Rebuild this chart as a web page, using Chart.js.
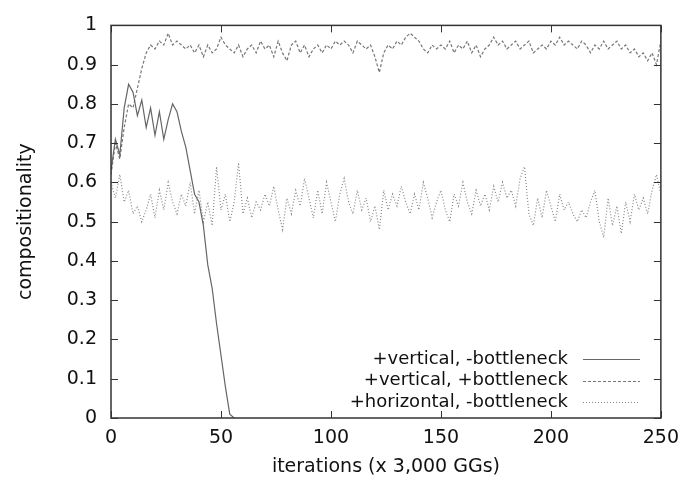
<!DOCTYPE html>
<html>
<head>
<meta charset="utf-8">
<script src="https://cdn.jsdelivr.net/npm/chart.js@4"></script>
<style>
  html, body { margin: 0; padding: 0; background: #fff; }
  #wrap { width: 688px; height: 483px; }
</style>
</head>
<body>
<div id="wrap"><canvas id="c"></canvas></div>
<script>
'use strict';

// iterations (x 3,000 GGs), sampled every 2
const iters = [
  0, 2, 4, 6, 8, 10, 12, 14, 16, 18, 20, 22, 24, 26, 28, 30, 32, 34, 36, 38,
  40, 42, 44, 46, 48, 50, 52, 54, 56, 58, 60, 62, 64, 66, 68, 70, 72, 74, 76, 78,
  80, 82, 84, 86, 88, 90, 92, 94, 96, 98, 100, 102, 104, 106, 108, 110, 112, 114, 116, 118,
  120, 122, 124, 126, 128, 130, 132, 134, 136, 138, 140, 142, 144, 146, 148, 150, 152, 154, 156, 158,
  160, 162, 164, 166, 168, 170, 172, 174, 176, 178, 180, 182, 184, 186, 188, 190, 192, 194, 196, 198,
  200, 202, 204, 206, 208, 210, 212, 214, 216, 218, 220, 222, 224, 226, 228, 230, 232, 234, 236, 238,
  240, 242, 244, 246, 248, 250
];

// +vertical, -bottleneck (collapses to 0 after ~55)
const vertNoBottleneck = [
  0.63, 0.71, 0.67, 0.79, 0.85, 0.83, 0.77, 0.81, 0.74, 0.79,
  0.72, 0.78, 0.71, 0.76, 0.80, 0.78, 0.73, 0.69, 0.63, 0.57,
  0.55, 0.49, 0.39, 0.33, 0.24, 0.16, 0.08, 0.01, 0.00
];

// +vertical, +bottleneck
const vertBottleneck = [
  0.62, 0.70, 0.66, 0.74, 0.80, 0.79, 0.84, 0.89, 0.93, 0.95,
  0.94, 0.96, 0.95, 0.98, 0.95, 0.96, 0.95, 0.94, 0.95, 0.93,
  0.95, 0.92, 0.95, 0.93, 0.94, 0.97, 0.95, 0.94, 0.93, 0.95,
  0.92, 0.94, 0.95, 0.93, 0.96, 0.94, 0.95, 0.92, 0.96, 0.93,
  0.91, 0.95, 0.96, 0.93, 0.95, 0.92, 0.94, 0.95, 0.93, 0.95,
  0.94, 0.96, 0.95, 0.96, 0.95, 0.93, 0.96, 0.95, 0.94, 0.95,
  0.92, 0.88, 0.93, 0.95, 0.94, 0.96, 0.95, 0.97, 0.98, 0.97,
  0.96, 0.94, 0.93, 0.95, 0.94, 0.95, 0.94, 0.96, 0.93, 0.95,
  0.94, 0.96, 0.93, 0.95, 0.92, 0.94, 0.95, 0.97, 0.95, 0.96,
  0.94, 0.95, 0.96, 0.94, 0.95, 0.96, 0.93, 0.94, 0.95, 0.94,
  0.96, 0.95, 0.97, 0.95, 0.96, 0.95, 0.94, 0.96, 0.95, 0.93,
  0.95, 0.94, 0.96, 0.94, 0.95, 0.96, 0.94, 0.95, 0.93, 0.94,
  0.92, 0.93, 0.91, 0.93, 0.90, 0.96
];

// +horizontal, -bottleneck
const horizNoBottleneck = [
  0.60, 0.56, 0.62, 0.55, 0.58, 0.52, 0.54, 0.50, 0.53, 0.57,
  0.51, 0.58, 0.53, 0.60, 0.55, 0.52, 0.57, 0.54, 0.60, 0.52,
  0.58, 0.50, 0.55, 0.49, 0.64, 0.53, 0.57, 0.50, 0.55, 0.65,
  0.52, 0.56, 0.51, 0.55, 0.53, 0.57, 0.54, 0.59, 0.53, 0.48,
  0.56, 0.52, 0.58, 0.54, 0.61, 0.56, 0.51, 0.58, 0.52, 0.60,
  0.55, 0.50, 0.57, 0.61, 0.55, 0.52, 0.58, 0.53, 0.56, 0.50,
  0.54, 0.48, 0.58, 0.53, 0.57, 0.54, 0.59, 0.55, 0.52, 0.57,
  0.53, 0.60, 0.56, 0.51, 0.55, 0.58, 0.53, 0.50, 0.57, 0.54,
  0.60, 0.55, 0.52, 0.58, 0.54, 0.57, 0.53, 0.59, 0.55, 0.60,
  0.56, 0.58, 0.54, 0.61, 0.64, 0.52, 0.49, 0.56, 0.51, 0.58,
  0.54, 0.50, 0.57, 0.53, 0.55, 0.52, 0.50, 0.53, 0.51, 0.55,
  0.58, 0.50, 0.46, 0.56, 0.49, 0.54, 0.47, 0.55, 0.50, 0.57,
  0.53, 0.56, 0.52, 0.58, 0.62, 0.57
];

const xTicks = [0, 50, 100, 150, 200, 250];
const yTicks = [0, 0.1, 0.2, 0.3, 0.4, 0.5, 0.6, 0.7, 0.8, 0.9, 1];

const toPoints = vals => vals.map((v, i) => ({ x: iters[i], y: v }));

Chart.defaults.font.family = 'DejaVu Sans';
Chart.defaults.font.size = 19;
Chart.defaults.color = '#111';

// gnuplot style frame with inward ticks on all four sides
const framePlugin = {
  id: 'frame',
  afterDatasetsDraw(chart) {
    const { ctx, chartArea: a, scales } = chart;
    ctx.save();
    ctx.strokeStyle = '#333';
    ctx.lineWidth = 1.5;
    ctx.strokeRect(a.left, a.top, a.right - a.left, a.bottom - a.top);
    ctx.lineWidth = 1;
    ctx.beginPath();
    xTicks.forEach(t => {
      const px = Math.round(scales.x.getPixelForValue(t)) + 0.5;
      ctx.moveTo(px, a.bottom); ctx.lineTo(px, a.bottom - 7);
      ctx.moveTo(px, a.top); ctx.lineTo(px, a.top + 7);
    });
    yTicks.forEach(t => {
      const py = Math.round(scales.y.getPixelForValue(t)) + 0.5;
      ctx.moveTo(a.left, py); ctx.lineTo(a.left + 7, py);
      ctx.moveTo(a.right, py); ctx.lineTo(a.right - 7, py);
    });
    ctx.stroke();
    ctx.restore();
  }
};

// legend in the lower right: label right-aligned, then line sample
const keyPlugin = {
  id: 'key',
  afterDraw(chart) {
    const { ctx } = chart;
    ctx.save();
    ctx.font = '18px "DejaVu Sans"';
    ctx.fillStyle = '#111';
    ctx.textAlign = 'right';
    ctx.textBaseline = 'middle';
    chart.data.datasets.forEach((ds, i) => {
      const y = 359 + i * 21.5;
      ctx.fillText(ds.label, 568, y);
      ctx.strokeStyle = ds.borderColor;
      ctx.lineWidth = ds.borderWidth;
      ctx.setLineDash(ds.borderDash || []);
      ctx.beginPath();
      ctx.moveTo(583, Math.round(y) + 0.5);
      ctx.lineTo(640, Math.round(y) + 0.5);
      ctx.stroke();
    });
    ctx.restore();
  }
};

new Chart(document.getElementById('c'), {
  type: 'line',
  data: {
    datasets: [
      {
        label: '+vertical, -bottleneck',
        data: toPoints(vertNoBottleneck),
        borderColor: '#666', borderWidth: 1.2,
        pointRadius: 0, tension: 0, fill: false
      },
      {
        label: '+vertical, +bottleneck',
        data: toPoints(vertBottleneck),
        borderColor: '#777', borderWidth: 1.2, borderDash: [3, 2],
        pointRadius: 0, tension: 0, fill: false
      },
      {
        label: '+horizontal, -bottleneck',
        data: toPoints(horizNoBottleneck),
        borderColor: '#888', borderWidth: 1.2, borderDash: [1, 2],
        pointRadius: 0, tension: 0, fill: false
      }
    ]
  },
  options: {
    responsive: true,
    maintainAspectRatio: false,
    animation: false,
    layout: { padding: { left: 0, right: 21, top: 17, bottom: 0 } },
    plugins: { legend: { display: false }, tooltip: { enabled: false } },
    scales: {
      x: {
        type: 'linear', min: 0, max: 250,
        afterBuildTicks: s => { s.ticks = xTicks.map(v => ({ value: v })); },
        afterFit: s => { s.height = 65; },
        grid: { display: false, drawTicks: false },
        border: { display: false },
        ticks: { padding: 9, maxRotation: 0 },
        title: {
          display: true, text: 'iterations (x 3,000 GGs)',
          padding: { top: 0, bottom: 5 }
        }
      },
      y: {
        type: 'linear', min: 0, max: 1,
        afterBuildTicks: s => { s.ticks = yTicks.map(v => ({ value: v })); },
        afterFit: s => { s.width = 111; },
        grid: { display: false, drawTicks: false },
        border: { display: false },
        ticks: { padding: 14, callback: v => String(+v.toFixed(1)) },
        title: {
          display: true, text: 'compositionality',
          padding: { top: 15, bottom: 0 }
        }
      }
    }
  },
  plugins: [framePlugin, keyPlugin]
});
</script>
</body>
</html>
